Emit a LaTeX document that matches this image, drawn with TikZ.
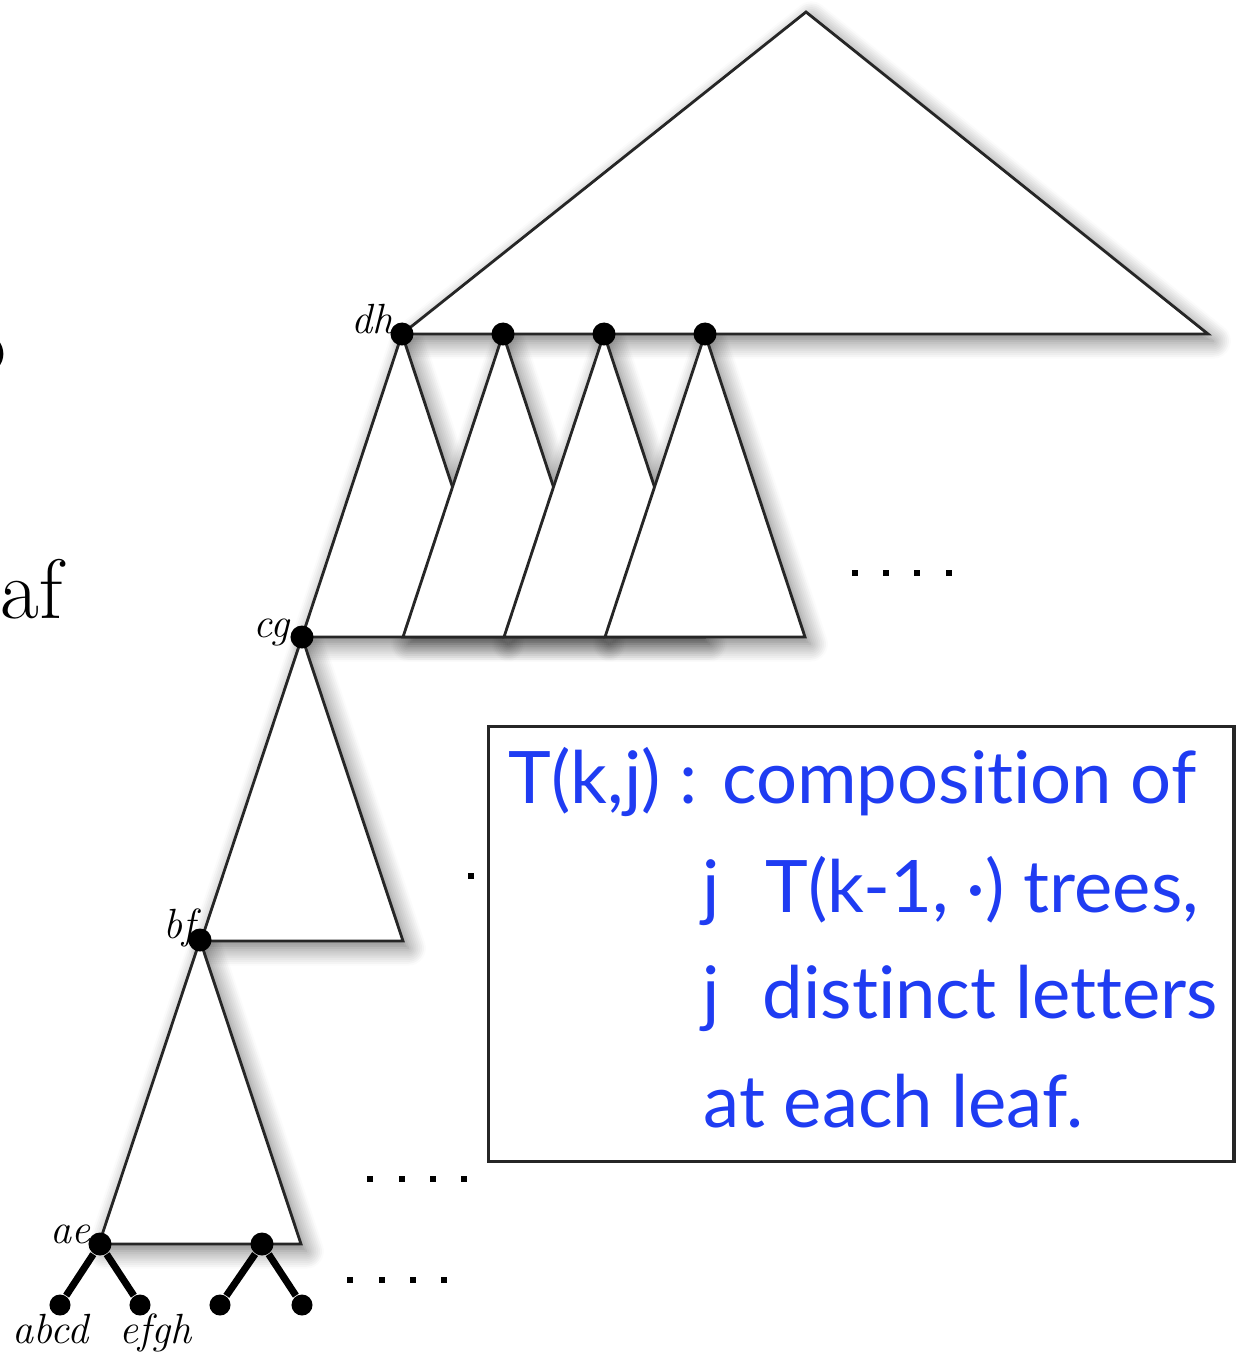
\documentclass[tikz,border=0pt]{standalone}
\usepackage{fontspec}
\newfontfamily\deffont[Ligatures=NoCommon]{Lato}
\usetikzlibrary{shadows.blur}
\definecolor{defblue}{HTML}{1F3CF2}
\definecolor{edgegray}{HTML}{262626}
\tikzset{
  tri shadow/.style={blur shadow={shadow xshift=1.5pt,shadow yshift=-2pt,
    shadow blur radius=5pt,shadow blur steps=10,shadow opacity=55}},
  tree tri/.style={draw=edgegray,line width=.8pt,fill=white,line join=miter},
  tree dot/.style={circle,fill=black,inner sep=0pt,minimum size=2.3mm},
  leaf dot/.style={circle,fill=black,inner sep=0pt,minimum size=2.1mm},
  tree edge/.style={line width=2pt},
  tree label/.style={font=\fontsize{12}{14}\selectfont\itshape,inner sep=0pt},
  def text/.style={text=defblue,font=\deffont\fontsize{20.6}{25}\selectfont,
    inner sep=0pt,anchor=base west},
  def frame/.style={draw=edgegray,line width=.9pt,inner sep=0pt,anchor=north west,
    minimum width=7.45cm,minimum height=4.35cm},
  cut text/.style={font=\fontsize{24}{28}\selectfont,inner sep=0pt,anchor=base east},
  more dot/.style={fill=black}
}

\begin{document}
\begin{tikzpicture}[x=.01cm,y=-.01cm]
  \useasboundingbox (0,0) rectangle (1242,1354);
  \clip (0,0) rectangle (1242,1354);
  \node[cut text] (cutword) at (7,372) {o};
  \node[cut text] (leafword) at (63,618) {af};
  \path[tri shadow] (806,12)--(1208,334)--(402,334)--cycle;
  \foreach \a in {402,503,604,705}
    \path[tri shadow] (\a,334)--(\a+100,637)--(\a-100,637)--cycle;
  \foreach \a/\b in {302/637,200/940}
    \path[tri shadow] (\a,\b)--(\a+101,\b+304)--(\a-101,\b+304)--cycle;
  \draw[tree tri] (806,12)--(1208,334)--(402,334)--cycle;
  \foreach \a in {402,503,604,705}
    \draw[tree tri] (\a,334)--(\a+100,637)--(\a-100,637)--cycle;
  \foreach \a/\b in {302/637,200/940}
    \draw[tree tri] (\a,\b)--(\a+101,\b+304)--(\a-101,\b+304)--cycle;
  \foreach \a/\n in {402/dh,503/dtwo,604/dthree,705/dfour}
    \node[tree dot] (\n) at (\a,334) {};
  \node[tree dot] (cg) at (302,637) {};
  \node[tree dot] (bf) at (200,940) {};
  \node[tree dot] (ae) at (100,1244) {};
  \node[tree dot] (aetwo) at (262,1244) {};
  \node[leaf dot] (abcd) at (60,1305) {};
  \node[leaf dot] (efgh) at (140,1305) {};
  \node[leaf dot] (lthree) at (220,1305) {};
  \node[leaf dot] (lfour) at (302,1305) {};
  \draw[tree edge] (abcd)--(ae)--(efgh);
  \draw[tree edge] (lthree)--(aetwo)--(lfour);
  \node[tree label,anchor=base east] at (394,333) {dh};
  \node[tree label,anchor=base east] at (290,637) {cg};
  \node[tree label,anchor=base east] at (196,938) {bf};
  \node[tree label,anchor=base east] at (91,1243) {ae};
  \node[tree label,anchor=base west] at (12,1343) {abcd};
  \node[tree label,anchor=base west] at (119,1343) {efgh};
  \foreach \x in {855,886,917,949}
    \fill[more dot] (\x-3,570) rectangle (\x+3,576);
  \foreach \x in {370,402,433,464}
    \fill[more dot] (\x-3,1176) rectangle (\x+3,1182);
  \foreach \x in {350,382,413,444}
    \fill[more dot] (\x-3,1277) rectangle (\x+3,1283);
  \fill[more dot] (468,873) rectangle (474,879);
  \node[def frame] (defbox) at (487,725) {};
  \node[def text] (defone) at (508,803) {T(k,j) : composition of};
  \node[def text] (deftwo) at (702,912) {\makebox[.63cm][l]{j}T(k-1, ·) trees,};
  \node[def text] (defthree) at (702,1018) {\makebox[.6cm][l]{j}distinct letters};
  \node[def text] (deffour) at (703,1127) {at each leaf.};
\end{tikzpicture}
\end{document}
